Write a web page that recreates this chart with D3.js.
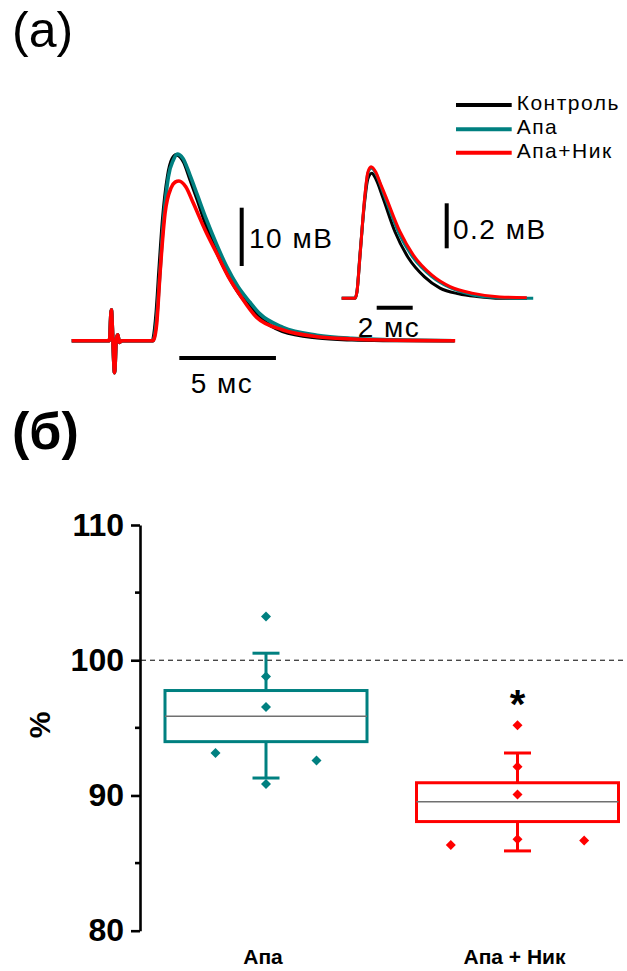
<!DOCTYPE html>
<html><head><meta charset="utf-8">
<script src="https://cdn.jsdelivr.net/npm/d3@7"></script>
<style>
html,body{margin:0;padding:0;background:#fff;}
svg{display:block;font-family:Arial,"Liberation Sans",sans-serif;}
</style></head><body>
<svg id="fig" width="627" height="971"></svg>
<script>
// ---------- panel (a): evoked responses (time, ms; amplitude, mV) ----------
const stimArtifact = [[0,0],[1.95,0],[2.05,5.3],[2.13,0],[2.22,-5.5],[2.3,0],[2.38,1.0],[2.47,-0.3],[2.6,0],[4.2,0]];

const bigControl = [[4.22,0.3],[4.38,5],[4.52,12],[4.7,20.5],[4.97,28.3],[5.2,31.2],[5.42,31.9],[5.8,30.6],
  [6.1,27.9],[6.5,24.2],[6.95,19.8],[7.5,15.2],[8.0,11.8],[8.7,7.9],[9.2,5.9],[9.7,4.1],[10.9,1.6],
  [12.7,0.5],[14.5,0.15],[16.1,0.05],[19.8,0]];
const bigApa = [[4.25,0.3],[4.4,4],[4.55,11],[4.74,20.2],[5.0,28.1],[5.26,31.0],[5.46,32.0],[5.75,31.3],
  [6.12,28.4],[6.5,25.0],[6.98,20.7],[7.5,16.5],[8.02,12.7],[8.6,9.3],[9.22,6.6],[9.74,4.6],[10.93,2.3],
  [12.69,0.95],[14.5,0.4],[16.1,0.2],[19.8,0]];
const bigApaNik = [[4.25,0.2],[4.4,3],[4.57,11.6],[4.83,21.9],[5.14,26.2],[5.35,27.2],[5.55,27.4],[5.9,26.4],
  [6.29,23.6],[6.9,19.0],[7.5,15.0],[8.1,11.0],[8.71,7.8],[9.57,4.0],[10.93,1.84],[12.69,0.69],
  [14.5,0.3],[16.1,0.12],[19.84,0]];

// inset: averaged small responses (time, ms; amplitude, mV)
const inControl = [[0,0],[0.74,0],[0.85,0.03],[1.0,0.18],[1.29,0.44],[1.45,0.53],[1.67,0.556],[1.9,0.53],
  [2.3,0.445],[2.96,0.296],[3.7,0.18],[4.6,0.095],[5.46,0.045],[6.5,0.02],[7.5,0.008],[8.8,0],[10.3,0]];
const inApa = [[0,0],[0.74,0],[0.85,0.03],[1.02,0.19],[1.29,0.455],[1.45,0.555],[1.65,0.578],[1.9,0.555],
  [2.15,0.505],[2.4,0.45],[3.2,0.285],[3.95,0.183],[5.0,0.097],[6.0,0.048],[7.3,0.015],[8.8,0.003],[10.64,0]];
const inApaNik = [[0,0],[0.74,0],[0.85,0.03],[1.02,0.192],[1.29,0.46],[1.45,0.56],[1.63,0.585],[1.9,0.56],
  [2.15,0.51],[2.41,0.46],[3.24,0.296],[3.98,0.192],[5.0,0.104],[6.02,0.052],[7.31,0.022],[8.79,0.006],[10.28,0.003]];

const traceNames = ["Контроль", "Апа", "Апа+Ник"];
const traceColors = ["#000000", "#008080", "#ff0000"];

// ---------- panel (б): normalised amplitude, % ----------
const groups = ["Апа", "Апа + Ник"];
const groupColors = ["#008080", "#ff0000"];
const q1 = [93.98, 88.07];
const median = [95.85, 89.53];
const q3 = [97.76, 90.94];
const whiskerLow = [91.29, 85.90];
const whiskerHigh = [100.52, 93.14];
const pointsApa = [103.23, 98.79, 96.55, 93.14, 92.59, 90.84];
const sideApa = [0, 0, 0, -1, 1, 0];
const pointsApaNik = [95.19, 92.13, 90.07, 86.33, 86.67, 86.77];
const sideApaNik = [0, 0, 0, -1, 1, 0];
const yTicks = [80, 90, 100, 110];
const yMinorTicks = [85, 95, 105];

const svg = d3.select("#fig");

// ---------- panel labels ----------
svg.append("text").attr("x", 12).attr("y", 47).attr("font-size", 50).text("(a)");
svg.append("text").attr("x", 12).attr("y", 449).attr("font-size", 52).attr("font-weight", "bold").text("(б)");

// ---------- panel (a) ----------
const xBig = d3.scaleLinear().domain([0, 20]).range([71.7, 71.7 + 386.6]);
const yBig = d3.scaleLinear().domain([0, 10]).range([340.7, 282.4]);
const xIn = d3.scaleLinear().domain([0, 10]).range([341.7, 521.7]);
const yIn = d3.scaleLinear().domain([0, 0.2]).range([298.3, 253.3]);

const lineBig = d3.line().x(d => xBig(d[0])).y(d => yBig(d[1])).curve(d3.curveMonotoneX);
const lineIn = d3.line().x(d => xIn(d[0])).y(d => yIn(d[1])).curve(d3.curveMonotoneX);

const gA = svg.append("g");
[bigControl, bigApa, bigApaNik].forEach((tr, i) => {
  gA.append("path").attr("d", lineBig(stimArtifact.concat(tr)))
    .attr("fill", "none").attr("stroke", traceColors[i]).attr("stroke-width", 3.6)
    .attr("stroke-linejoin", "round");
});
[inControl, inApa, inApaNik].forEach((tr, i) => {
  gA.append("path").attr("d", lineIn(tr))
    .attr("fill", "none").attr("stroke", traceColors[i]).attr("stroke-width", 3)
    .attr("stroke-linejoin", "round");
});

// scale bars
const bar = (x1, y1, x2, y2) => gA.append("line").attr("x1", x1).attr("y1", y1).attr("x2", x2).attr("y2", y2)
  .attr("stroke", "#000").attr("stroke-width", 4);
const label = (xx, yy, t, anchor) => gA.append("text").attr("x", xx).attr("y", yy)
  .attr("text-anchor", anchor || "start").attr("font-size", 28).attr("letter-spacing", 1.5).text(t);

const v10 = yBig(0) - yBig(10);
bar(241.7, 207.7, 241.7, 207.7 + v10);
label(249, 248, "10 мВ");
const h5 = xBig(5) - xBig(0);
bar(179.3, 358, 179.3 + h5, 358);
label(222, 393, "5 мс", "middle");

const v02 = yIn(0) - yIn(0.2);
bar(446.7, 203.3, 446.7, 203.3 + v02);
label(453, 239, "0.2 мВ");
const h2 = xIn(2) - xIn(0);
bar(376.7, 307.7, 376.7 + h2, 307.7);
label(389, 336.7, "2 мс", "middle");

// legend
const legY = [105, 129.3, 152.7];
traceNames.forEach((n, i) => {
  gA.append("line").attr("x1", 456).attr("x2", 511.7).attr("y1", legY[i]).attr("y2", legY[i])
    .attr("stroke", traceColors[i]).attr("stroke-width", 4);
  gA.append("text").attr("x", 516.7).attr("y", legY[i] + 5)
    .attr("font-size", 21).attr("letter-spacing", 1.5).text(n);
});

// ---------- panel (б) ----------
const y = d3.scaleLinear().domain([80, 110]).range([930.7, 525]);
const x = d3.scalePoint().domain(groups).range([266, 517.5]);
const boxW = 202;
const capW = 27;
const spread = [0.25, 0.33];

const gB = svg.append("g");

// reference level
gB.append("line").attr("x1", 141).attr("x2", 627).attr("y1", y(100)).attr("y2", y(100))
  .attr("stroke", "#000").attr("stroke-width", 1).attr("stroke-dasharray", "5,4");

// axis
const axis = d3.axisLeft(y).tickValues(yTicks).tickSize(9).tickSizeOuter(0).tickPadding(7).tickFormat(d3.format("d"));
const ax = gB.append("g").attr("transform", "translate(140,0)").call(axis);
ax.select(".domain").attr("stroke-width", 2.6);
ax.selectAll(".tick line").attr("stroke-width", 2.6);
ax.selectAll(".tick text").attr("font-size", 32).attr("font-weight", "bold")
  .attr("font-family", "Arial, 'Liberation Sans', sans-serif").attr("fill", "#000");
ax.selectAll(".minor").data(yMinorTicks).enter().append("line").attr("class", "minor")
  .attr("x1", -5).attr("x2", 0).attr("y1", d => y(d)).attr("y2", d => y(d))
  .attr("stroke", "#000").attr("stroke-width", 2.6);

gB.append("text").attr("transform", "translate(50,725) rotate(-90)").attr("text-anchor", "middle")
  .attr("font-size", 30).attr("font-weight", "bold").text("%");

// boxes
const pts = [pointsApa, pointsApaNik];
const sides = [sideApa, sideApaNik];
groups.forEach((g, i) => {
  const cx = x(g), c = groupColors[i];
  const gg = gB.append("g");
  gg.append("line").attr("x1", cx).attr("x2", cx).attr("y1", y(q3[i])).attr("y2", y(whiskerHigh[i]))
    .attr("stroke", c).attr("stroke-width", 3);
  gg.append("line").attr("x1", cx).attr("x2", cx).attr("y1", y(q1[i])).attr("y2", y(whiskerLow[i]))
    .attr("stroke", c).attr("stroke-width", 3);
  [whiskerHigh[i], whiskerLow[i]].forEach(v => {
    gg.append("line").attr("x1", cx - capW / 2).attr("x2", cx + capW / 2).attr("y1", y(v)).attr("y2", y(v))
      .attr("stroke", c).attr("stroke-width", 3);
  });
  gg.append("rect").attr("x", cx - boxW / 2).attr("y", y(q3[i])).attr("width", boxW)
    .attr("height", y(q1[i]) - y(q3[i])).attr("fill", "none").attr("stroke", c).attr("stroke-width", 3);
  gg.append("line").attr("x1", cx - boxW / 2).attr("x2", cx + boxW / 2).attr("y1", y(median[i])).attr("y2", y(median[i]))
    .attr("stroke", "#707070").attr("stroke-width", 1.5);
  gg.selectAll("path.pt").data(pts[i]).enter().append("path").attr("class", "pt")
    .attr("d", d3.symbol().type(d3.symbolSquare).size(50))
    .attr("transform", (d, k) => `translate(${cx + sides[i][k] * spread[i] * boxW},${y(d)}) rotate(45)`)
    .attr("fill", c);
  gB.append("text").attr("x", cx - 3).attr("y", 964).attr("text-anchor", "middle")
    .attr("font-size", 21).attr("font-weight", "bold").text(g);
});

// significance mark
gB.append("text").attr("x", x(groups[1])).attr("y", 718).attr("text-anchor", "middle")
  .attr("font-size", 40).attr("font-weight", "bold").text("*");
</script>
</body></html>
